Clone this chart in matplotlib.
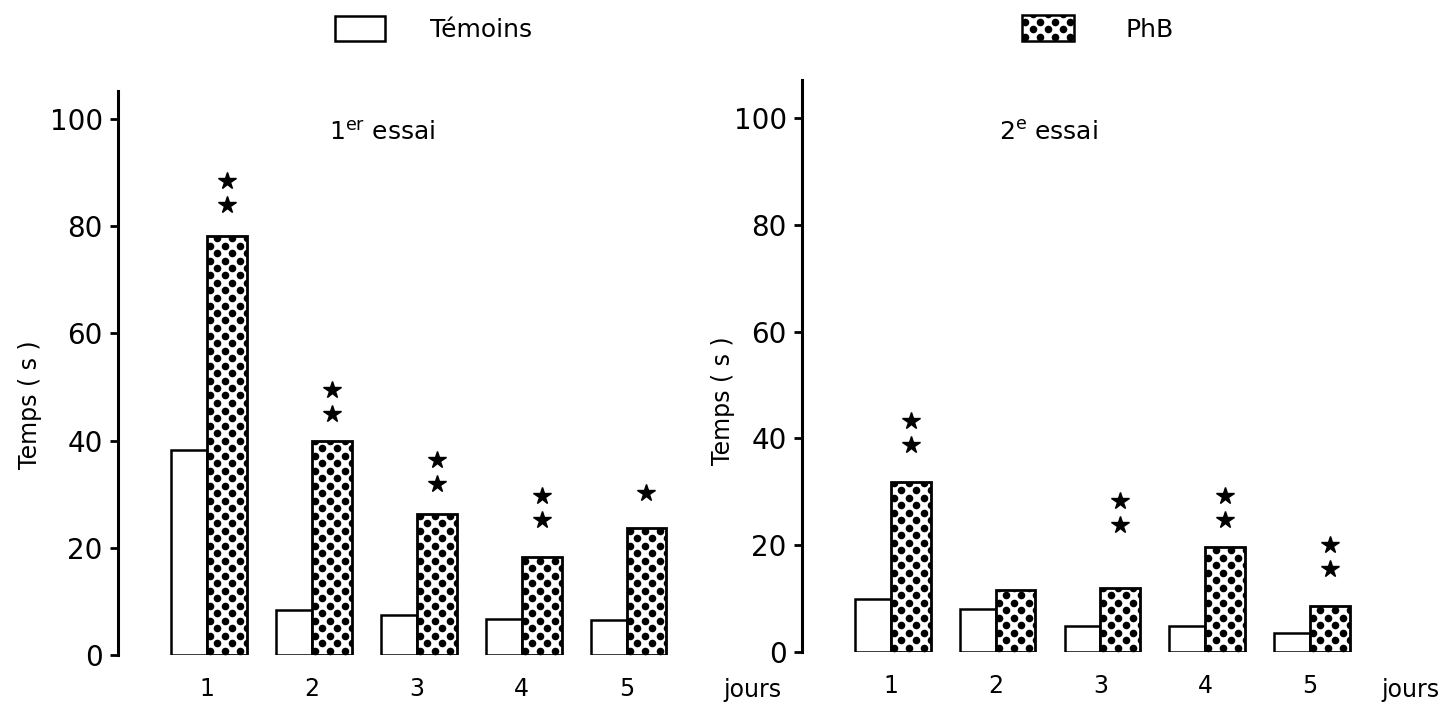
import matplotlib
matplotlib.use("Agg")
import matplotlib.pyplot as plt
from matplotlib.patches import Rectangle
import numpy as np

# ---- données ----
jours = [1, 2, 3, 4, 5]

temoins_essai1 = [38.2, 8.4, 7.5, 6.7, 6.5]
phb_essai1 = [78.2, 40.0, 26.3, 18.3, 23.7]
etoiles_essai1 = [2, 2, 2, 2, 1]          # nombre d'étoiles
etoiles_y_essai1 = [84.0, 45.0, 31.9, 25.2, 30.2]  # position de l'étoile du bas

temoins_essai2 = [9.9, 8.0, 4.9, 4.9, 3.6]
phb_essai2 = [31.8, 11.6, 12.0, 19.7, 8.6]
etoiles_essai2 = [2, 0, 2, 2, 2]
etoiles_y_essai2 = [38.8, 0, 23.8, 24.7, 15.5]

y_ticks = [0, 20, 40, 60, 80, 100]
titres = [r"1$^{\mathrm{er}}$ essai", r"2$^{\mathrm{e}}$ essai"]

W, H = 1450, 707
fig = plt.figure(figsize=(W / 100, H / 100), dpi=100)
plt.rcParams['font.family'] = ['DejaVu Sans']


def pointiller(ax, patch, dx_px=15.0, dy_px=7.5, taille=30):
    # motif de points noirs en quinconce, coupé au contour de la barre
    p0 = ax.transData.transform((0, 0))
    p1 = ax.transData.transform((1, 1))
    sx = dx_px / (p1[0] - p0[0])
    sy = dy_px / (p1[1] - p0[1])
    x0, y0 = patch.get_x(), patch.get_y()
    x1, y1 = x0 + patch.get_width(), y0 + patch.get_height()
    xs, ys = [], []
    for k, yy in enumerate(np.arange(y0 + sy * 0.6, y1 + sy, sy)):
        dec = 0 if k % 2 == 0 else sx / 2
        for xx in np.arange(x0 + sx * 0.2 + dec - sx, x1 + sx, sx):
            xs.append(xx)
            ys.append(yy)
    sc = ax.scatter(xs, ys, s=taille, color='black', linewidths=0, zorder=3)
    sc.set_clip_path(patch)


def panneau(rect, ylim, xlim, temoins, phb, n_et, y_et, titre, titre_xy,
            label_xy):
    ax = fig.add_axes(rect)
    ax.set_xlim(*xlim)
    ax.set_ylim(*ylim)
    for s in ['top', 'right', 'bottom']:
        ax.spines[s].set_visible(False)
    ax.spines['left'].set_linewidth(2.2)

    x = np.array(jours, dtype=float)
    ax.bar(x, temoins, width=-0.34, align='edge', facecolor='white',
           edgecolor='black', linewidth=1.8, zorder=2)
    b2 = ax.bar(x, phb, width=0.38, align='edge', facecolor='white',
                edgecolor='black', linewidth=2.0, zorder=4)
    for p in b2.patches:
        p.set_facecolor('none')
        fond = Rectangle((p.get_x(), p.get_y()), p.get_width(), p.get_height(),
                         facecolor='white', edgecolor='none', zorder=2)
        ax.add_patch(fond)
        pointiller(ax, fond)

    for xi, n, ye in zip(x, n_et, y_et):
        for k in range(n):
            ax.plot(xi + 0.19, ye + 4.5 * k, marker='*', color='black',
                    markersize=13, linestyle='none', zorder=5)

    ax.set_yticks(y_ticks)
    ax.tick_params(axis='y', direction='out', length=6, width=2,
                   labelsize=20, pad=5)
    ax.set_xticks(x)
    ax.set_xticklabels([str(j) for j in jours])
    ax.tick_params(axis='x', length=0, labelsize=17, pad=16)

    ax.set_ylabel("Temps ( s )", fontsize=17)
    ax.yaxis.set_label_coords(*label_xy)
    ax.text(*titre_xy, titre, transform=ax.transAxes, fontsize=18,
            ha='center', va='center')
    return ax


# panneau gauche
panneau([118 / W, 1 - 655 / H, 582 / W, 564 / H], (0, 105.2), (0.152, 5.7),
        temoins_essai1, phb_essai1, etoiles_essai1, etoiles_y_essai1,
        titres[0], ((382 - 118) / 582, (655 - 133) / 564), (-0.13, 0.443))
fig.text(752 / W, 1 - 690 / H, "jours", fontsize=17, ha='center', va='center')

# panneau droit
panneau([802 / W, 1 - 652 / H, 581 / W, 572 / H], (0, 107.1), (0.15, 5.7),
        temoins_essai2, phb_essai2, etoiles_essai2, etoiles_y_essai2,
        titres[1], ((1048 - 802) / 581, (652 - 133) / 572), (-0.115, 0.44))
fig.text(1410 / W, 1 - 690 / H, "jours", fontsize=17, ha='center', va='center')

# légende
lax1 = fig.add_axes([335 / W, 1 - 41 / H, 50 / W, 25 / H])
lax1.set_xlim(0, 1)
lax1.set_ylim(0, 1)
lax1.axis('off')
lax1.add_patch(Rectangle((0, 0), 1, 1, facecolor='white', edgecolor='black',
                         linewidth=1.8, clip_on=False))
fig.text(430 / W, 1 - 30 / H, "Témoins", fontsize=18, ha='left', va='center')

lax2 = fig.add_axes([1022 / W, 1 - 41 / H, 52 / W, 26 / H])
lax2.set_xlim(0, 1)
lax2.set_ylim(0, 1)
lax2.axis('off')
leg = Rectangle((0, 0), 1, 1, facecolor='white', edgecolor='none', zorder=1)
lax2.add_patch(leg)
pointiller(lax2, leg)
lax2.add_patch(Rectangle((0, 0), 1, 1, facecolor='none', edgecolor='black',
                         linewidth=1.8, clip_on=False, zorder=4))
fig.text(1125 / W, 1 - 30 / H, "PhB", fontsize=18, ha='left', va='center')

fig.savefig("out.png", dpi=100)
